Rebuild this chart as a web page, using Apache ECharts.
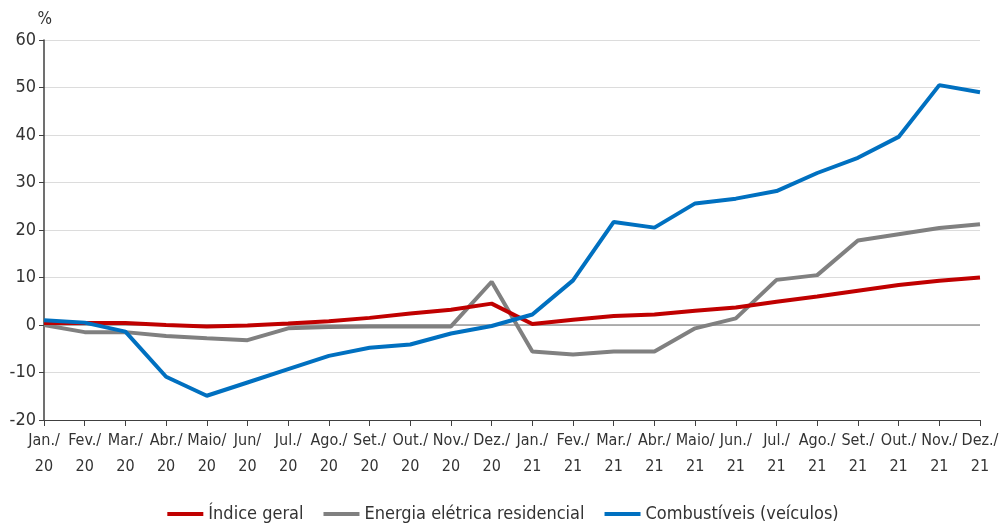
<!DOCTYPE html>
<html>
<head>
<meta charset="utf-8">
<script src="https://cdn.jsdelivr.net/npm/echarts@6/dist/echarts.min.js"></script>
<style>html,body{margin:0;padding:0;background:#fff}#c{width:1006px;height:524px}</style>
</head>
<body>
<div id="c"></div>
<script>
const categories = ["Jan./\n20","Fev./\n20","Mar./\n20","Abr./\n20","Maio/\n20","Jun/\n20","Jul./\n20","Ago./\n20","Set./\n20","Out./\n20","Nov./\n20","Dez./\n20",
  "Jan./\n21","Fev./\n21","Mar./\n21","Abr./\n21","Maio/\n21","Jun./\n21","Jul./\n21","Ago./\n21","Set./\n21","Out./\n21","Nov./\n21","Dez./\n21"];
const indiceGeral = [0.4,0.4,0.4,0.0,-0.3,-0.1,0.3,0.8,1.5,2.4,3.2,4.5, 0.2,1.1,1.9,2.2,3.0,3.7,4.9,6.0,7.2,8.4,9.3,10.0];
const energia = [0.0,-1.5,-1.5,-2.3,-2.8,-3.2,-0.7,-0.4,-0.3,-0.3,-0.3,9.1, -5.6,-6.2,-5.6,-5.6,-0.7,1.4,9.5,10.5,17.8,19.1,20.4,21.2];
const combustiveis = [1.0,0.5,-1.4,-10.9,-14.9,-12.1,-9.3,-6.5,-4.8,-4.1,-1.8,-0.2, 2.2,9.4,21.7,20.5,25.6,26.6,28.2,32.0,35.2,39.6,50.5,49.0];
const seriesNames = ["Índice geral","Energia elétrica residencial","Combustíveis (veículos)"];
const yTicks = {min:-20,max:60,interval:10};

const FONT = '"Liberation Sans Narrow","Arial Narrow","DejaVu Sans Condensed","Liberation Sans",sans-serif';
const chart = echarts.init(document.getElementById('c'));
const mk = (name, data, color, z) => ({
  name, type:'line', data, symbol:'none', smooth:false, z,
  lineStyle:{color, width:4}, itemStyle:{color}
});
const s0 = mk(seriesNames[0], indiceGeral, '#c00000', 4);
const s1 = mk(seriesNames[1], energia, '#808080', 3);
const s2 = mk(seriesNames[2], combustiveis, '#0070c0', 5);
s1.markLine = {silent:true, symbol:'none', label:{show:false}, lineStyle:{color:'#9a9a9a', width:1.5, type:'solid'}, data:[{yAxis:0}], z:1};
chart.setOption({
  animation:false,
  backgroundColor:'#ffffff',
  textStyle:{fontFamily:FONT},
  grid:{left:44, right:26, top:40, bottom:104, containLabel:false},
  legend:{
    top:500, left:'center', itemWidth:36, itemHeight:4, itemGap:20, icon:'rect',
    textStyle:{fontFamily:FONT, fontSize:18, color:'#333'},
    data:seriesNames
  },
  xAxis:{
    type:'category', data:categories, boundaryGap:false,
    axisLine:{onZero:false, lineStyle:{color:'#404040', width:1}},
    axisTick:{show:true, alignWithLabel:true, length:6, lineStyle:{color:'#404040'}},
    axisLabel:{interval:0, fontFamily:FONT, fontSize:16, color:'#333', lineHeight:26, margin:8},
    splitLine:{show:false}
  },
  yAxis:{
    type:'value', min:yTicks.min, max:yTicks.max, interval:yTicks.interval,
    name:'%', nameLocation:'end', nameGap:12,
    nameTextStyle:{fontFamily:FONT, fontSize:17, color:'#333', align:'right', padding:[0,-8,0,0]},
    axisLine:{show:true, lineStyle:{color:'#404040', width:1.5}},
    axisTick:{show:true, length:5, lineStyle:{color:'#404040'}},
    axisLabel:{fontFamily:FONT, fontSize:18, color:'#333', margin:8},
    splitLine:{show:true, lineStyle:{color:'#dcdcdc', width:1}}
  },
  series:[s0, s1, s2]
});
</script>
</body>
</html>
